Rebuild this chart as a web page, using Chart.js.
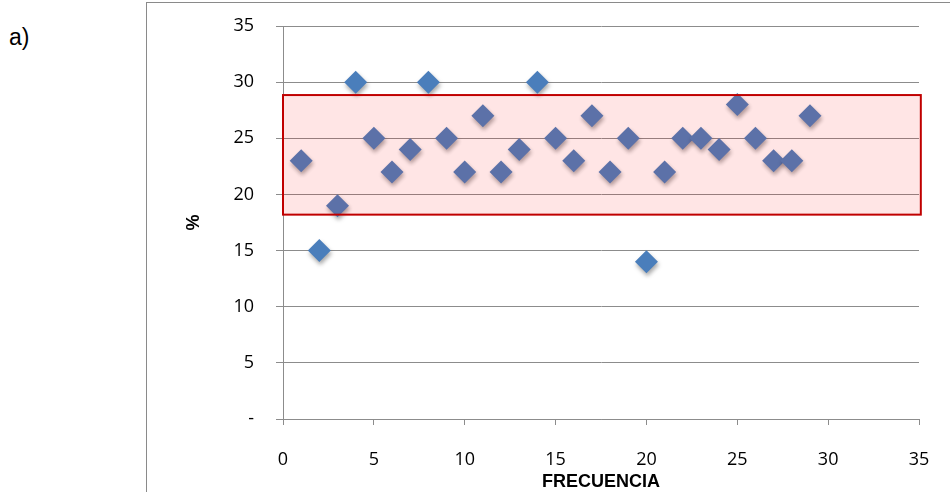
<!DOCTYPE html>
<html>
<head>
<meta charset="utf-8">
<script src="https://cdn.jsdelivr.net/npm/chart.js@4/dist/chart.umd.min.js"></script>
<style>
  html, body { margin: 0; padding: 0; background: #fff; }
  #wrap { position: relative; width: 950px; height: 492px; overflow: hidden; }
  #frame { position: absolute; left: 146px; top: 2px; width: 900px; height: 600px;
           border-left: 1px solid #8a8a8a; border-top: 1px solid #8a8a8a; }
  #tag { position: absolute; left: 9px; top: 24px; font: 23px "Liberation Sans", Arial, sans-serif; color: #000; }
  canvas { position: absolute; left: 0; top: 0; }
</style>
</head>
<body>
<div id="wrap">
  <div id="frame"></div>
  <div id="tag">a)</div>
  <canvas id="c" width="950" height="492"></canvas>
</div>
<script>
// Frequency index and measured percentage for each sample
const frequencies = [1, 2, 3, 4, 5, 6, 7, 8, 9, 10, 11, 12, 13, 14, 15,
                     16, 17, 18, 19, 20, 21, 22, 23, 24, 25, 26, 27, 28, 29];
const percents    = [23, 15, 19, 30, 25, 22, 24, 30, 25, 22, 27, 22, 24, 30, 25,
                     23, 27, 22, 25, 14, 22, 25, 25, 24, 28, 25, 23, 23, 27];

// Acceptance band (percent limits) and its horizontal extent
const bandLimits = [18.2, 28.85];
const bandRange  = [0, 35.1];

// Axis ticks
const xTicks = [0, 5, 10, 15, 20, 25, 30, 35];
const yTicks = [0, 5, 10, 15, 20, 25, 30, 35];

const gridGray = '#8c8c8c';
const tickFont = { family: '"Open Sans", "Liberation Sans", sans-serif', size: 18 };

// Soft drop shadow under markers, then the translucent band drawn over them
const bandPlugin = {
  id: 'band',
  beforeDatasetsDraw(chart) {
    const ctx = chart.ctx;
    ctx.save();
    ctx.shadowColor = 'rgba(0,0,0,0.35)';
    ctx.shadowBlur = 4;
    ctx.shadowOffsetX = 1;
    ctx.shadowOffsetY = 3;
  },
  afterDatasetsDraw(chart) {
    const ctx = chart.ctx;
    ctx.restore();
    const xs = chart.scales.x, ys = chart.scales.y;
    const x0 = xs.getPixelForValue(bandRange[0]);
    const x1 = xs.getPixelForValue(bandRange[1]);
    const yTop = ys.getPixelForValue(bandLimits[1]);
    const yBot = ys.getPixelForValue(bandLimits[0]);
    ctx.save();
    ctx.fillStyle = 'rgba(255,0,0,0.1)';
    ctx.fillRect(x0, yTop, x1 - x0, yBot - yTop);
    ctx.strokeStyle = '#c00000';
    ctx.lineWidth = 2;
    ctx.strokeRect(x0, yTop, x1 - x0, yBot - yTop);
    ctx.restore();
  }
};

new Chart(document.getElementById('c'), {
  type: 'scatter',
  data: {
    datasets: [{
      data: frequencies.map((f, i) => ({ x: f, y: percents[i] })),
      pointStyle: 'rectRot',
      pointRadius: 11.5,
      backgroundColor: '#4a7ebb',
      borderColor: '#4a7ebb',
      borderWidth: 0
    }]
  },
  options: {
    responsive: false,
    animation: false,
    devicePixelRatio: 1,
    layout: { padding: { left: 180, top: 26, right: 31, bottom: 0 } },
    plugins: { legend: { display: false }, tooltip: { enabled: false } },
    scales: {
      x: {
        type: 'linear',
        min: xTicks[0], max: xTicks[xTicks.length - 1],
        afterBuildTicks: s => { s.ticks = xTicks.map(v => ({ value: v })); },
        ticks: { font: tickFont, color: '#000', padding: 24, maxRotation: 0 },
        grid: { drawOnChartArea: false, drawTicks: true, tickLength: 6, color: gridGray },
        border: { color: gridGray, width: 1 },
        title: {
          display: true, text: 'FRECUENCIA', color: '#000',
          font: { family: '"Liberation Sans", Arial, sans-serif', size: 18, weight: 'bold' },
          padding: { top: 0, bottom: -1 }
        },
        afterFit: s => { s.height = 73; s.paddingLeft = 0; s.paddingRight = 0; }
      },
      y: {
        min: yTicks[0], max: yTicks[yTicks.length - 1],
        afterBuildTicks: s => { s.ticks = yTicks.map(v => ({ value: v })); },
        ticks: { font: tickFont, color: '#000', padding: 22,
                 callback: v => (v === 0 ? '-' : String(v)) },
        grid: { color: gridGray, tickLength: 7 },
        border: { color: gridGray, width: 1 },
        title: {
          display: true, text: '%', color: '#000',
          font: { family: '"Liberation Sans", Arial, sans-serif', size: 18, weight: 'bold' },
          padding: { top: 3, bottom: 0 }
        },
        afterFit: s => { s.width = 103; s.paddingTop = 0; s.paddingBottom = 0; }
      }
    }
  },
  plugins: [bandPlugin]
});
</script>
</body>
</html>
